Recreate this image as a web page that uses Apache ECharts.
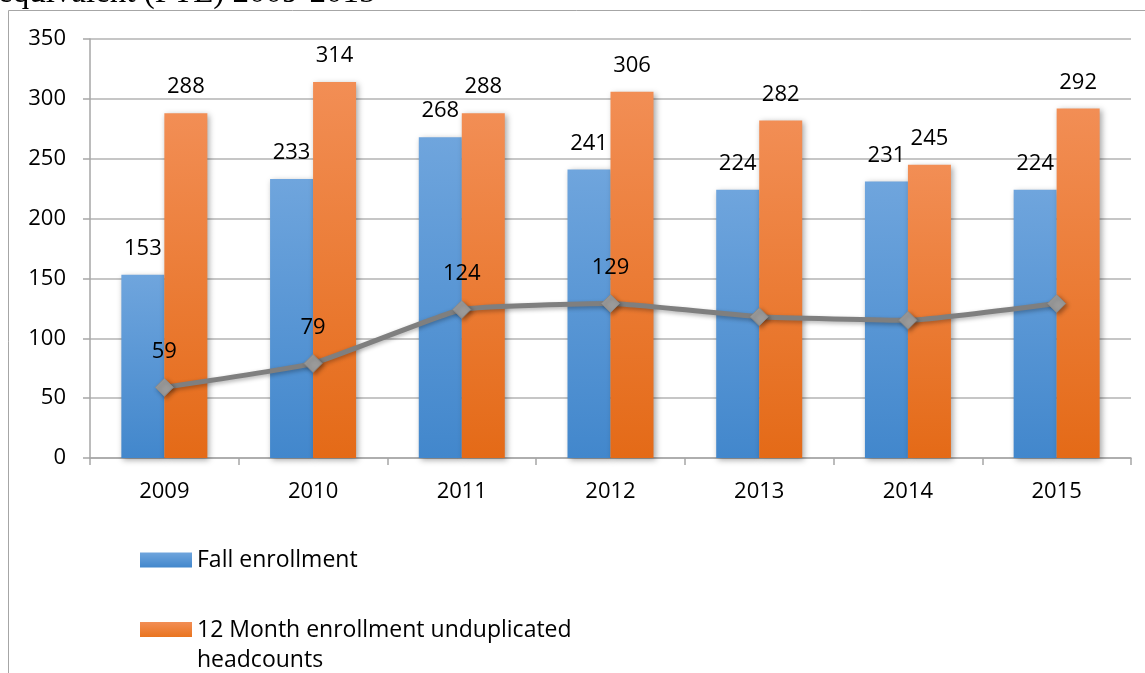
<!DOCTYPE html>
<html>
<head>
<meta charset="utf-8">
<script src="https://cdn.jsdelivr.net/npm/echarts@6/dist/echarts.min.js"></script>
<style>
html,body{margin:0;padding:0;background:#fff;}
#chart{width:1145px;height:673px;}
</style>
</head>
<body>
<div id="chart"></div>
<script>
const years = ['2009','2010','2011','2012','2013','2014','2015'];
const fallEnrollment = [153, 233, 268, 241, 224, 231, 224];
const twelveMonth = [288, 314, 288, 306, 282, 245, 292];
const fte = [59, 79, 124, 129, 118, 115, 129];
const fteLabelShown = [true, true, true, true, false, false, false];
const yTicks = [0, 50, 100, 150, 200, 250, 300, 350];
const seriesNames = ['Fall enrollment', '12 Month enrollment unduplicated headcounts', 'FTE'];
const legendTexts = ['Fall enrollment', '12 Month enrollment unduplicated\nheadcounts'];
const titleText = 'equivalent (FTE) 2009-2015';

const font = '"Open Sans", "Noto Sans", sans-serif';
const FS = 22;
const LFS = 23;
const chart = echarts.init(document.getElementById('chart'), null, {renderer: 'canvas'});

const blueGrad = new echarts.graphic.LinearGradient(0, 0, 0, 1, [
  {offset: 0, color: '#6fa5dd'}, {offset: 1, color: '#4287cc'}
]);
const orangeGrad = new echarts.graphic.LinearGradient(0, 0, 0, 1, [
  {offset: 0, color: '#f28e55'}, {offset: 1, color: '#e46a17'}
]);
const orangeIconGrad = new echarts.graphic.LinearGradient(0, 0, 0, 1, [
  {offset: 0, color: '#f28e55'}, {offset: 0.33, color: '#e9741f'}, {offset: 1, color: '#e46a17'}
]);

const option = {
  backgroundColor: '#ffffff',
  animation: false,
  textStyle: {fontFamily: font},
  graphic: [
    {type: 'text', left: -2, top: -23, z: 10,
      style: {text: titleText, font: '33px "Liberation Serif", serif', fill: '#000'}},
    {type: 'line', z: 10, shape: {x1: 8.5, y1: 10.5, x2: 1145, y2: 10.5},
      style: {stroke: '#a6a6a6', lineWidth: 1}},
    {type: 'line', z: 10, shape: {x1: 8.5, y1: 10.5, x2: 8.5, y2: 673},
      style: {stroke: '#a6a6a6', lineWidth: 1}}
  ],
  legend: [
    {
      data: [seriesNames[0]], left: 140, top: 545, orient: 'vertical', padding: 0,
      itemWidth: 52, itemHeight: 15, icon: 'rect', itemGap: 0,
      formatter: function () { return legendTexts[0]; },
      textStyle: {fontSize: LFS, color: '#000', fontFamily: font, lineHeight: 30}
    },
    {
      data: [{name: seriesNames[1], itemStyle: {color: orangeIconGrad}}],
      left: 140, top: 615, orient: 'vertical', padding: 0,
      itemWidth: 52, itemHeight: 46, itemGap: 0,
      icon: 'path://M0,0L52,0L52,15L0,15Z M0,46L0.2,46',
      formatter: function () { return legendTexts[1]; },
      textStyle: {fontSize: LFS, color: '#000', fontFamily: font, lineHeight: 30}
    }
  ],
  grid: {left: 90, right: 14, top: 39, bottom: 215, containLabel: false},
  xAxis: {
    type: 'category', data: years,
    axisLine: {show: true, lineStyle: {color: '#a6a6a6', width: 1.5}},
    axisTick: {show: true, length: 7, lineStyle: {color: '#a6a6a6', width: 1.5}},
    axisLabel: {fontSize: FS, color: '#000', margin: 23, fontFamily: font}
  },
  yAxis: {
    type: 'value', min: yTicks[0], max: yTicks[yTicks.length - 1], interval: 50,
    axisLine: {show: true, lineStyle: {color: '#a6a6a6', width: 1.5}},
    axisTick: {show: true, length: 7, lineStyle: {color: '#a6a6a6', width: 1.5}},
    splitLine: {show: true, lineStyle: {color: '#b3b3b3', width: 1.5}},
    axisLabel: {fontSize: FS, color: '#000', margin: 24, fontFamily: font}
  },
  series: [
    {
      name: seriesNames[0], type: 'bar', data: fallEnrollment,
      barWidth: 43, barGap: '0%',
      itemStyle: {color: blueGrad, shadowColor: 'rgba(0,0,0,0.35)', shadowBlur: 6, shadowOffsetX: 2, shadowOffsetY: 2},
      label: {show: true, position: 'top', distance: 15, fontSize: FS, color: '#000', fontFamily: font}
    },
    {
      name: seriesNames[1], type: 'bar', data: twelveMonth,
      barWidth: 43, barGap: '0%',
      itemStyle: {color: orangeGrad, shadowColor: 'rgba(0,0,0,0.35)', shadowBlur: 6, shadowOffsetX: 2, shadowOffsetY: 2},
      label: {show: true, position: 'top', distance: 15, fontSize: FS, color: '#000', fontFamily: font}
    },
    {
      name: seriesNames[2], type: 'line', z: 5,
      data: fte.map((v, i) => ({value: v, label: {show: fteLabelShown[i]}})),
      smooth: 0.12,
      symbol: 'diamond', symbolSize: 18,
      lineStyle: {color: '#7f7f7f', width: 5, shadowColor: 'rgba(0,0,0,0.3)', shadowBlur: 4, shadowOffsetY: 2},
      itemStyle: {color: '#9b9b9b', borderColor: '#8a8a8a', borderWidth: 1, shadowColor: 'rgba(0,0,0,0.35)', shadowBlur: 4, shadowOffsetX: 2, shadowOffsetY: 2},
      label: {position: 'top', distance: 15, fontSize: FS, color: '#000', fontFamily: font}
    }
  ]
};
chart.setOption(option);
</script>
</body>
</html>
